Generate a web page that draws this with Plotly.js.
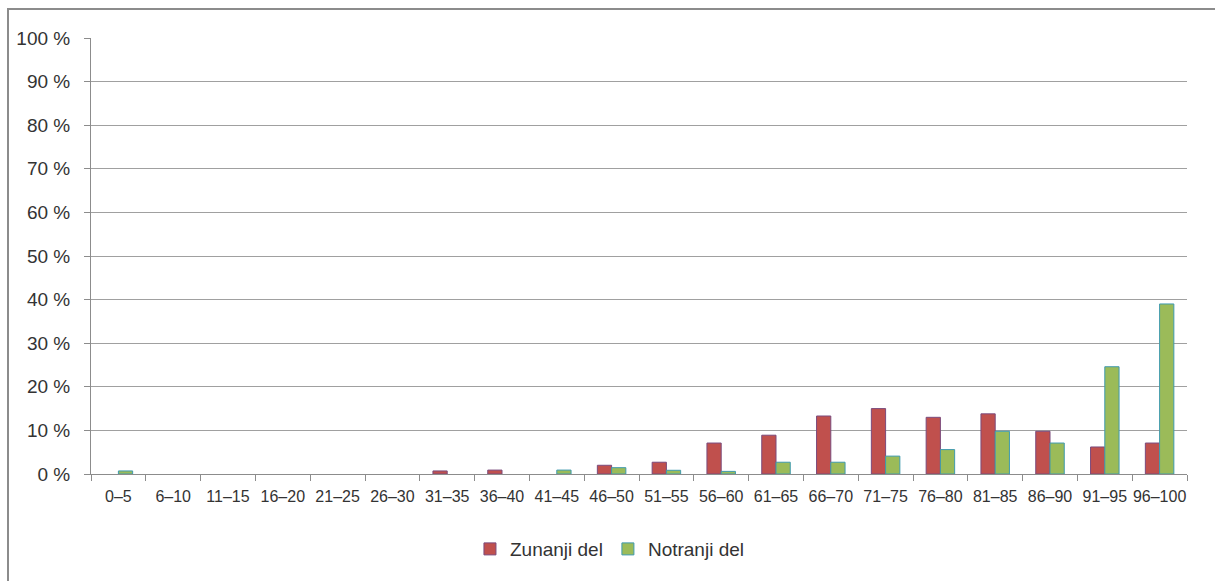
<!DOCTYPE html>
<html>
<head>
<meta charset="utf-8">
<script src="https://cdn.plot.ly/plotly-3.0.1.min.js"></script>
<style>
	html, body { margin: 0; padding: 0; background: #fff; }
	#chart { width: 1215px; height: 581px; }
	#frame {
		position: absolute; left: 7px; top: 8px; width: 1300px; height: 700px;
		border: 2px solid #8c8c8c; pointer-events: none;
	}
</style>
</head>
<body>
<div id="chart"></div>
<div id="frame"></div>
<script>
var categories = ['0–5', '6–10', '11–15', '16–20', '21–25', '26–30', '31–35', '36–40', '41–45', '46–50',
	'51–55', '56–60', '61–65', '66–70', '71–75', '76–80', '81–85', '86–90', '91–95', '96–100'];
var zunanji = [0, 0, 0, 0, 0, 0, 0.7, 0.9, 0, 2.0,
	2.7, 7.1, 8.9, 13.3, 15.0, 13.0, 13.8, 9.8, 6.2, 7.1];
var notranji = [0.7, 0, 0, 0, 0, 0, 0, 0, 0.9, 1.45,
	0.85, 0.6, 2.7, 2.7, 4.1, 5.6, 9.8, 7.1, 24.6, 39.0];
var yTicks = [0, 10, 20, 30, 40, 50, 60, 70, 80, 90, 100];

// empty categories draw nothing (no flat outline at zero)
function hideZero(v) { return v === 0 ? null : v; }

var data = [
	{
		name: 'Zunanji del',
		x: categories,
		y: zunanji.map(hideZero),
		type: 'bar',
		marker: { color: '#c0504d', line: { color: '#7a4a7c', width: 1 } },
	},
	{
		name: 'Notranji del',
		x: categories,
		y: notranji.map(hideZero),
		type: 'bar',
		marker: { color: '#9bbb59', line: { color: '#3f9aae', width: 1 } },
	},
];

var layout = {
	width: 1215,
	height: 581,
	margin: { l: 91, r: 28, t: 38, b: 107, autoexpand: false },
	paper_bgcolor: '#ffffff',
	plot_bgcolor: '#ffffff',
	font: { family: 'Liberation Sans, Arial, sans-serif', size: 16, color: '#333' },
	barmode: 'group',
	bargap: 0.48,
	bargroupgap: 0,
	showlegend: true,
	legend: {
		orientation: 'h',
		x: 0.4735, xanchor: 'center',
		yref: 'container',
		y: 0.055, yanchor: 'middle',
		font: { size: 19, color: '#333' },
		itemwidth: 30,
		tracegroupgap: 0,
	},
	xaxis: {
		type: 'category',
		showgrid: false,
		showline: true,
		linecolor: '#8c8c8c',
		ticks: 'outside',
		tickson: 'boundaries',
		ticklen: 6,
		tickcolor: '#8c8c8c',
		tickangle: 0,
		tickfont: { size: 16 },
		ticklabelstandoff: 8,
		fixedrange: true,
	},
	yaxis: {
		range: [0, 100],
		tickmode: 'array',
		tickvals: yTicks,
		ticktext: yTicks.map(function(v) { return v + ' %'; }),
		showgrid: true,
		gridcolor: '#a0a0a0',
		showline: true,
		linecolor: '#8c8c8c',
		ticks: 'outside',
		ticklen: 6,
		tickcolor: '#8c8c8c',
		zeroline: false,
		tickfont: { size: 19 },
		ticklabelstandoff: 10,
		fixedrange: true,
	},
};

Plotly.newPlot('chart', data, layout, { displayModeBar: false, staticPlot: true });
</script>
</body>
</html>
